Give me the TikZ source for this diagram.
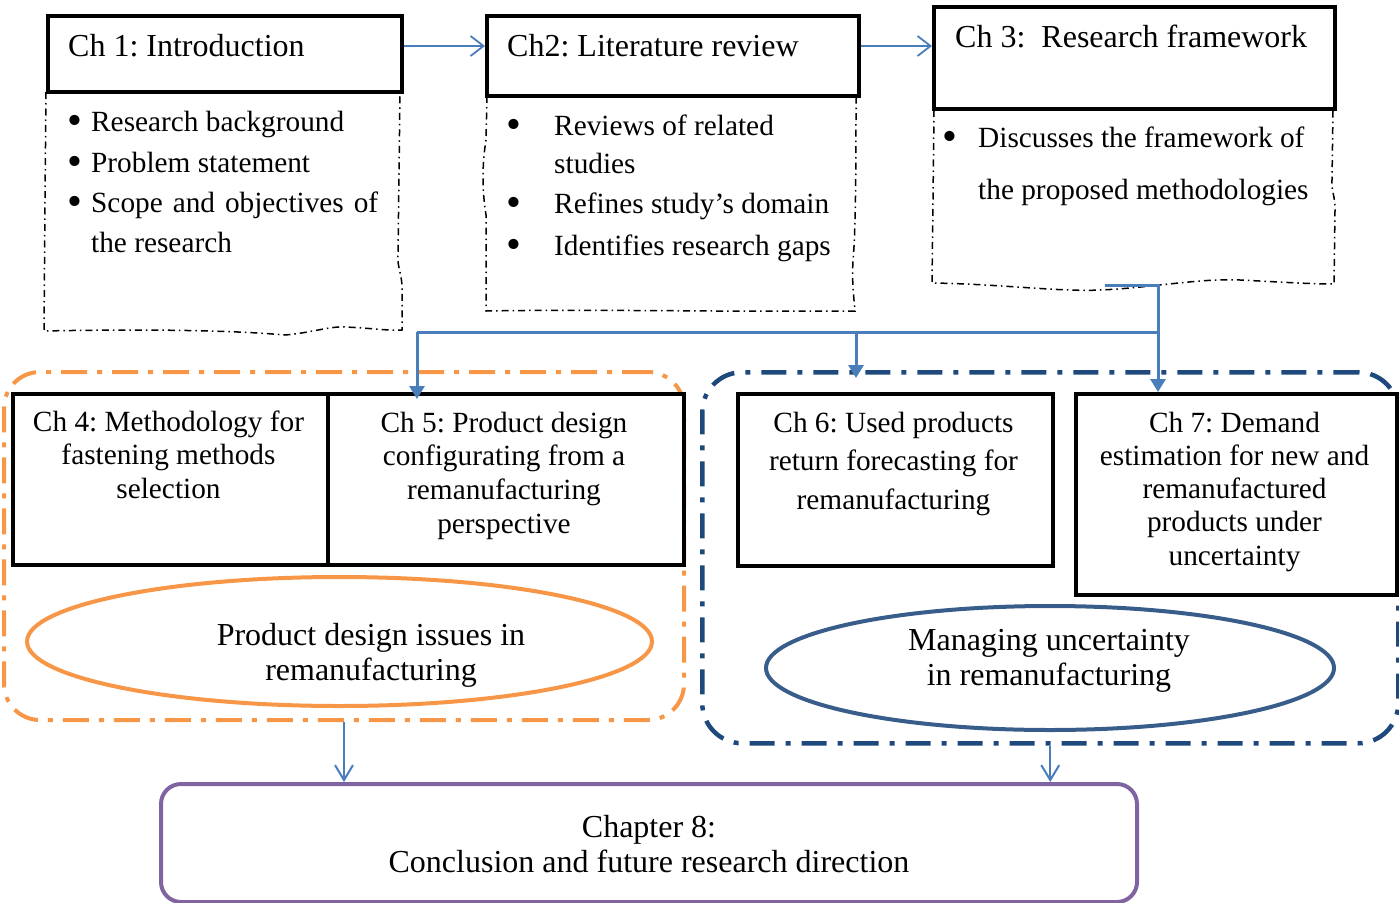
\documentclass[tikz,border=0pt]{standalone}
\usepackage{fontspec}
\usepackage{graphicx}
\setmainfont{Liberation Serif}
\usetikzlibrary{arrows.meta,shapes.geometric}

\definecolor{linkblue}{HTML}{4A7EBB}
\definecolor{designorange}{HTML}{F79646}
\definecolor{riskblue}{HTML}{1F497D}
\definecolor{ovalblue}{HTML}{385D8A}
\definecolor{closepurple}{HTML}{8064A2}

\newcommand{\headfont}{\fontsize{32}{40}\selectfont}
\newcommand{\itemfont}{\fontsize{29.3}{40}\selectfont}
% bullet hung to the left of an item, #1 = distance from bullet to text
\newcommand{\itembullet}[1]{\llap{\makebox[#1][l]{\raisebox{-3.6pt}{\scalebox{1.45}{•}}}}}
% centred block of lines whose baseline is that of the first line
\newcommand{\linesblock}[1]{\begin{tabular}[t]{@{}c@{}}#1\end{tabular}}

\begin{document}
\frenchspacing
\begin{tikzpicture}[x=1pt,y=-1pt,
  header/.style={draw=black, fill=white, line width=3.5pt, anchor=north west, inner sep=0pt},
  chapbox/.style={draw=black, fill=white, line width=3.5pt, anchor=north west, inner sep=0pt},
  bodyline/.style={line width=1.5pt, dash pattern=on 7pt off 4pt on 1.5pt off 4pt},
  headtext/.style={anchor=base west, inner sep=0pt, font=\headfont},
  itemtext/.style={anchor=base west, inner sep=0pt, font=\itemfont},
  chaptext/.style={anchor=base, inner sep=0pt},
  ovaltext/.style={anchor=base, inner sep=0pt, font=\fontsize{32}{35}\selectfont},
  region/.style={anchor=north west, inner sep=0pt, line width=4pt,
                 dash pattern=on 26pt off 10pt on 5pt off 10pt},
  toplink/.style={draw=linkblue, line width=1.8pt, -{Straight Barb[length=13pt,width=20pt]}},
  downlink/.style={draw=linkblue, line width=2pt, -{Straight Barb[length=15pt,width=18pt]}},
  mainlink/.style={draw=linkblue, line width=3pt},
  maintip/.style={-{Triangle[length=13pt,width=15pt]}},
]
\useasboundingbox (0,0) rectangle (1399,902);

% ---------- grouping regions ----------
\node[region, draw=designorange, rounded corners=36pt,
      minimum width=680pt, minimum height=348pt] (regO) at (2,370) {};
\node[region, draw=riskblue, line width=4.5pt, rounded corners=40pt,
      dash pattern=on 25pt off 11pt on 5pt off 11pt,
      minimum width=696pt, minimum height=371pt] (regB) at (700,370) {};

% ---------- chapter 1 ----------
\draw[bodyline] (46,92) -- (45,200) -- (44,331)
  .. controls (140,329) and (230,330) .. (285,335)
  .. controls (310,333) and (330,326) .. (345,327)
  .. controls (370,328) and (390,331) .. (402,330)
  -- (402,285) .. controls (401,272) and (397,265) .. (398,255) -- (400,92);
\node[header, minimum width=354pt, minimum height=76pt] (h1) at (46,14) {};
\node[headtext] (t1) at (68,56) {Ch 1: Introduction};
\node[itemtext] (i11) at (91,131) {\itembullet{24pt}Research background};
\node[itemtext] (i12) at (91,172) {\itembullet{24pt}Problem statement};
\node[itemtext] (i13) at (91,212) {\itembullet{24pt}\makebox[287pt][s]{Scope and objectives of}};
\node[itemtext] (i14) at (91,252) {the research};

% ---------- chapter 2 ----------
\draw[bodyline] (487,96) -- (486,140)
  .. controls (482,165) and (482,190) .. (486,215) -- (486,311)
  .. controls (600,309) and (700,312) .. (855,311)
  .. controls (853,290) and (852,280) .. (853,260)
  .. controls (856,230) and (856,150) .. (856,96);
\node[header, minimum width=372pt, minimum height=80pt] (h2) at (485,14) {};
\node[headtext] (t2) at (507,56) {Ch2: Literature review};
\node[itemtext] (i21) at (554,135) {\itembullet{48pt}Reviews of related};
\node[itemtext] (i22) at (554,173) {studies};
\node[itemtext] (i23) at (554,213) {\itembullet{48pt}Refines study’s domain};
\node[itemtext] (i24) at (554,255) {\itembullet{48pt}Identifies research gaps};

% ---------- chapter 3 ----------
\draw[bodyline] (934,110) -- (933,200) -- (932,283)
  .. controls (1000,284) and (1060,292) .. (1100,290)
  .. controls (1150,288) and (1200,278) .. (1240,280)
  .. controls (1280,282) and (1310,284) .. (1334,284)
  -- (1335,210) .. controls (1335,195) and (1331,190) .. (1332,180) -- (1333,110);
\node[header, minimum width=401pt, minimum height=102pt] (h3) at (932,5) {};
\node[headtext] (t3) at (955,47) {Ch 3:\ \ Research framework};
\node[itemtext] (i31) at (978,147) {\itembullet{36pt}Discusses the framework of};
\node[itemtext] (i32) at (978,199) {the proposed methodologies};
\coordinate (b3out) at (1105,285);

% ---------- chapters 4 to 7 ----------
\node[chapbox, minimum width=315pt, minimum height=171pt] (ch4) at (11,392) {};
\node[chapbox, minimum width=356pt, minimum height=171pt] (ch5) at (326,392) {};
\node[chapbox, minimum width=315pt, minimum height=172pt] (ch6) at (736,392) {};
\node[chapbox, minimum width=321pt, minimum height=201pt] (ch7) at (1074,392) {};

\node[chaptext, font=\fontsize{29.3}{33.7}\selectfont] (c4) at (168.5,431)
  {\linesblock{Ch 4: Methodology for\\fastening methods\\selection}};
\node[chaptext, font=\fontsize{29.3}{33.7}\selectfont] (c5) at (504,432)
  {\linesblock{Ch 5: Product design\\configurating from a\\remanufacturing\\perspective}};
\node[chaptext, font=\fontsize{29.3}{38.5}\selectfont] (c6) at (893.5,432)
  {\linesblock{Ch 6: Used products\\return forecasting for\\remanufacturing}};
\node[chaptext, font=\fontsize{29.3}{33.3}\selectfont] (c7) at (1234.5,432)
  {\linesblock{Ch 7: Demand\\estimation for new and\\remanufactured\\products under\\uncertainty}};

% ---------- theme ovals ----------
\node[ellipse, draw=designorange, line width=4pt, inner sep=0pt,
      minimum width=625pt, minimum height=129pt] (ovO) at (339.5,641.5) {};
\node[ovaltext] (ovOt) at (371,645) {\linesblock{Product design issues in\\remanufacturing}};
\node[ellipse, draw=ovalblue, line width=4pt, inner sep=0pt,
      minimum width=568pt, minimum height=124pt] (ovB) at (1050,668) {};
\node[ovaltext] (ovBt) at (1049,650) {\linesblock{Managing uncertainty\\in remanufacturing}};

% ---------- chapter 8 ----------
\node[draw=closepurple, line width=4pt, rounded corners=20pt, anchor=north west,
      inner sep=0pt, minimum width=976pt, minimum height=118pt] (ch8) at (159,782) {};
\node[ovaltext] (c8) at (649,837) {\linesblock{Chapter 8:\\Conclusion and future research direction}};

% ---------- connectors ----------
\coordinate (toprow) at (0,46);
\draw[toplink] (h1.east |- toprow) -- (h2.west |- toprow);
\draw[toplink] (h2.east |- toprow) -- (h3.west |- toprow);

\coordinate (split) at (1158,332);
\coordinate (left5) at (417,332);
\coordinate (mid6) at (856,332);
\draw[mainlink] (b3out) -| (split) -- (left5);
\draw[mainlink, maintip] (split) -- (ch7.north -| split);
\draw[mainlink, maintip, shorten >=-7pt] (left5) -- (ch5.north -| left5);
\draw[mainlink, maintip, shorten >=-8pt] (mid6) -- (regB.north -| mid6);

\draw[downlink] (regO.south) -- (regO.south |- ch8.north);
\draw[downlink] (regB.south) -- (regB.south |- ch8.north);
\end{tikzpicture}
\end{document}
